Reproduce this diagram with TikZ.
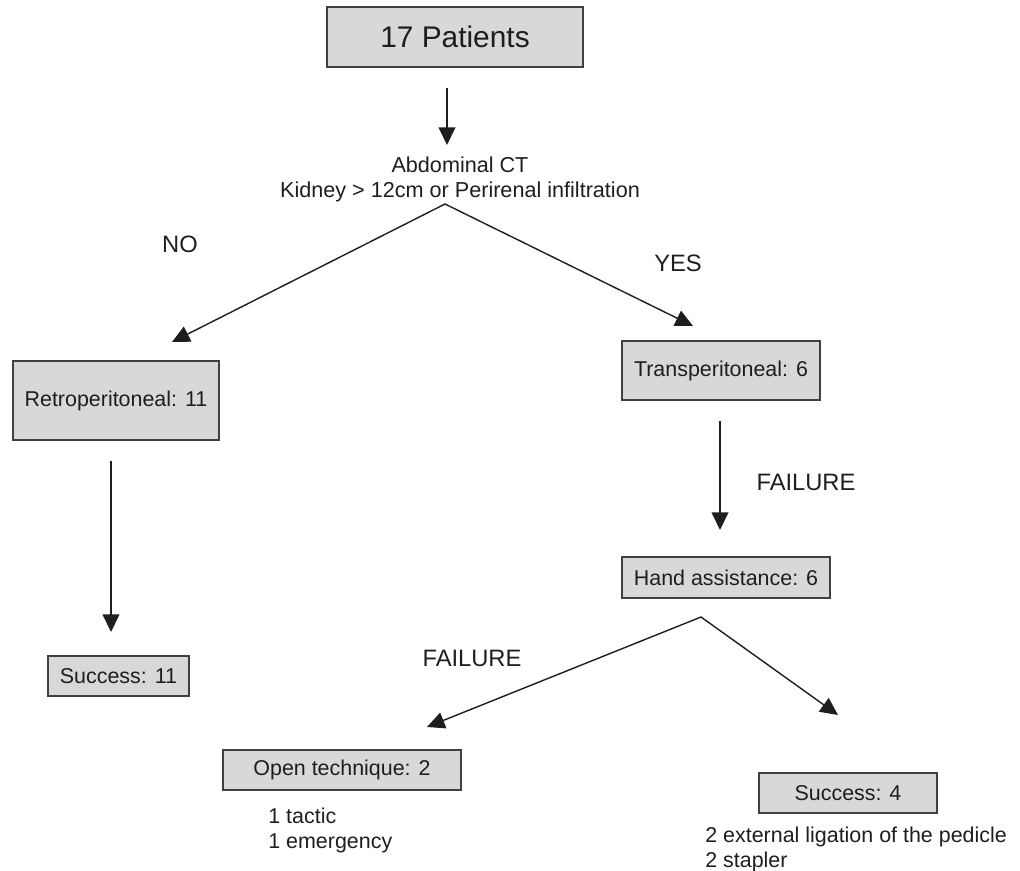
\documentclass[tikz,border=0pt]{standalone}
\usepackage{fontspec}
\setmainfont{Liberation Sans}
\usepackage{tikz}
\usetikzlibrary{arrows.meta}
\definecolor{boxgray}{RGB}{216,216,216}
\definecolor{ink}{RGB}{30,30,30}

\begin{document}
\begin{tikzpicture}[x=0.02cm,y=-0.02cm,
        box/.style={draw=ink!85,line width=0.8pt,fill=boxgray,inner sep=0pt,text=ink,font=\fontsize{12.2}{14.2}\selectfont},
        lbl/.style={inner sep=0pt,text=ink,font=\fontsize{13.5}{16}\selectfont},
        note/.style={inner sep=0pt,text=ink,align=left,anchor=north west,font=\fontsize{12.2}{14.2}\selectfont},
        headtip/.tip={Triangle[length=10pt,width=9.5pt]},
        arr/.style={-headtip,line width=0.8pt,draw=ink}]
        \useasboundingbox (0,0) rectangle (1020,871);
        %boxes
        \node[box,minimum width=5.12cm,minimum height=1.2cm,font=\fontsize{17}{19}\selectfont] (pat) at (455,37) {17 Patients};
        \node[box,minimum width=4.12cm,minimum height=1.58cm] (retro) at (116,400.5) {Retroperitoneal: 11};
        \node[box,minimum width=3.96cm,minimum height=1.18cm] (trans) at (721,370.5) {Transperitoneal: 6};
        \node[box,minimum width=2.82cm,minimum height=0.8cm] (succA) at (118.5,676) {Success: 11};
        \node[box,minimum width=4.16cm,minimum height=0.82cm] (hand) at (726,577.5) {Hand assistance: 6};
        \node[box,minimum width=4.76cm,minimum height=0.8cm] (open) at (342,770) {Open technique: 2};
        \node[box,minimum width=3.56cm,minimum height=0.8cm] (succB) at (848,793) {Success: 4};
        %texts
        \node[inner sep=0pt,text=ink,align=center,font=\fontsize{12.3}{14.2}\selectfont] (ct) at (460,179)
            {Abdominal CT\\Kidney > 12cm or Perirenal infiltration};
        \path
        (180,244) node[lbl] (no) {NO}
        (678,263.5) node[lbl] (yes) {YES}
        (806,482) node[lbl] (failA) {FAILURE}
        (472,658) node[lbl] (failB) {FAILURE};
        \node[note] (openNote) at (268,808) {1 tactic\\1 emergency};
        \node[note] (succNote) at (705,827) {2 external ligation of the pedicle\\2 stapler};
        %arrow ends
        \coordinate (ctIn) at (447,145);
        \coordinate (ctFork) at (445,204);
        \coordinate (retroIn) at (172,342);
        \coordinate (transIn) at (693,326);
        \coordinate (succAIn) at (111,632);
        \coordinate (handIn) at (720,530);
        \coordinate (handFork) at (701,617);
        \coordinate (openIn) at (427,727);
        \coordinate (succBIn) at (838,715);
        %arrows
        \draw[arr,shorten <=0.4cm] (pat.south -| ctIn) -- (ctIn);
        \draw[arr,headtip-headtip] (retroIn) -- (ctFork) -- (transIn);
        \draw[arr,shorten <=0.4cm] (retro.south -| succAIn) -- (succAIn);
        \draw[arr,shorten <=0.4cm] (trans.south -| handIn) -- (handIn);
        \draw[arr,headtip-headtip] (openIn) -- (handFork) -- (succBIn);
\end{tikzpicture}
\end{document}
